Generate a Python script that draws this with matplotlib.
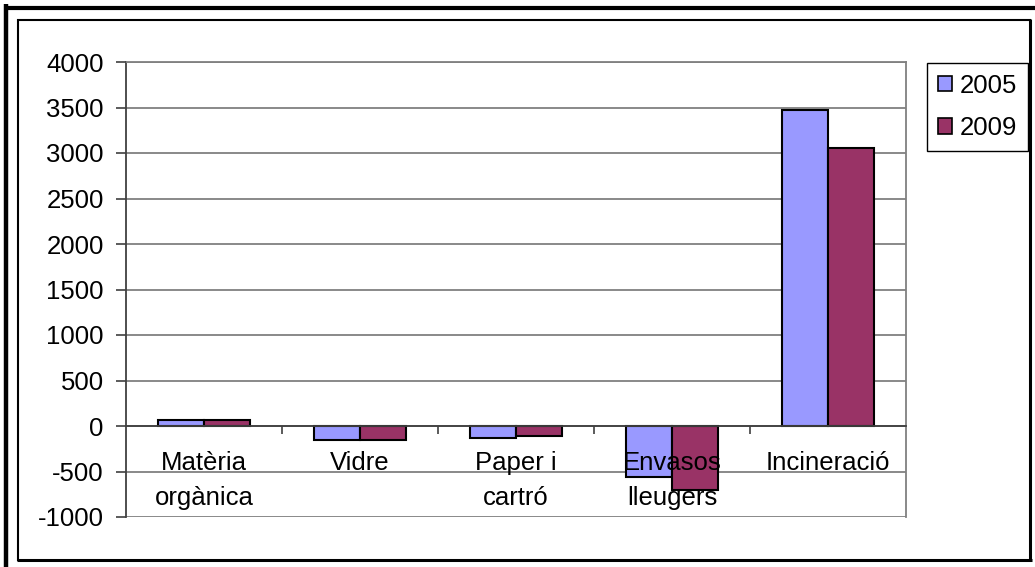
import matplotlib
matplotlib.use("Agg")
import matplotlib.pyplot as plt
from matplotlib.patches import Patch
from matplotlib.lines import Line2D
import numpy as np

# Data
categories = ["Matèria\norgànica", "Vidre", "Paper i\ncartró", "Envasos\nlleugers", "Incineració"]
series_names = ["2005", "2009"]
values_2005 = [65, -150, -128, -565, 3470]
values_2009 = [65, -150, -106, -700, 3050]
y_ticks = [-1000, -500, 0, 500, 1000, 1500, 2000, 2500, 3000, 3500, 4000]

colors = ["#9999FF", "#993366"]

W, H = 1035, 567
plt.rcParams["font.family"] = ["Liberation Sans", "DejaVu Sans"]
FS = 18.5

fig = plt.figure(figsize=(W / 100, H / 100), dpi=100)
fig.patch.set_facecolor("white")

# Plot area in pixel coordinates
left_px, right_px, top_px, bot_px = 126, 906, 62, 517
ax = fig.add_axes([left_px / W, 1 - bot_px / H, (right_px - left_px) / W, (bot_px - top_px) / H])
ax.set_axisbelow(False)

x = np.arange(len(categories))
bw = 0.295
ax.bar(x - bw / 2, values_2005, width=bw, color=colors[0], edgecolor="black", linewidth=1.5, zorder=2)
ax.bar(x + bw / 2, values_2009, width=bw, color=colors[1], edgecolor="black", linewidth=1.5, zorder=2)

ax.set_xlim(-0.5, len(categories) - 0.5)
ax.set_ylim(y_ticks[0], y_ticks[-1])

# Gridlines behind bars
for yv in y_ticks:
    ax.axhline(yv, color="#808080", linewidth=1.3, zorder=0.5)

# Axes styling
grey = "#808080"
for s in ["top", "right"]:
    ax.spines[s].set_color(grey)
    ax.spines[s].set_linewidth(1.3)
ax.spines["left"].set_color("#404040")
ax.spines["left"].set_linewidth(1.3)
ax.spines["bottom"].set_position(("data", 0))
ax.spines["bottom"].set_color("#404040")
ax.spines["bottom"].set_linewidth(1.3)

ax.set_yticks(y_ticks)
ax.set_yticklabels([str(v) for v in y_ticks], fontsize=FS)
ax.tick_params(axis="y", direction="out", length=7, width=1.2, color="#404040", pad=9)

ax.set_xticks(x)
ax.set_xticklabels(categories, fontsize=FS, linespacing=1.6)
ax.tick_params(axis="x", which="major", length=0, pad=18)
ax.set_xticks(np.arange(0.5, len(categories) - 1, 1.0), minor=True)
ax.tick_params(axis="x", which="minor", direction="out", length=6, width=1.2, color="#404040")

# Legend
handles = [Patch(facecolor=colors[i], edgecolor="black", linewidth=1.2) for i in range(2)]
leg = fig.legend(handles, series_names, loc="upper left",
                 bbox_to_anchor=(927 / W, 1 - 63 / H), borderaxespad=0,
                 fontsize=FS, frameon=True, fancybox=False, framealpha=1,
                 edgecolor="black", handlelength=0.55, handleheight=0.55,
                 handletextpad=0.3, borderpad=0.42, labelspacing=0.72)
leg.get_frame().set_linewidth(1.0)

# Chart frame
def hline(y, x0, x1, lw):
    fig.add_artist(Line2D([x0 / W, x1 / W], [1 - y / H, 1 - y / H], color="black", linewidth=lw,
                          transform=fig.transFigure, solid_capstyle="butt"))

def vline(xp, y0, y1, lw):
    fig.add_artist(Line2D([xp / W, xp / W], [1 - y0 / H, 1 - y1 / H], color="black", linewidth=lw,
                          transform=fig.transFigure, solid_capstyle="butt"))

hline(7.5, 4, W, 3.0)
vline(6.2, 4, H, 3.2)
hline(19.8, 17, 1031, 1.5)
vline(17.8, 19, 561, 1.5)
hline(559.5, 17, 1031.5, 2.2)
vline(1030, 19, 561, 2.2)

fig.savefig("out.png", dpi=100, facecolor="white")
